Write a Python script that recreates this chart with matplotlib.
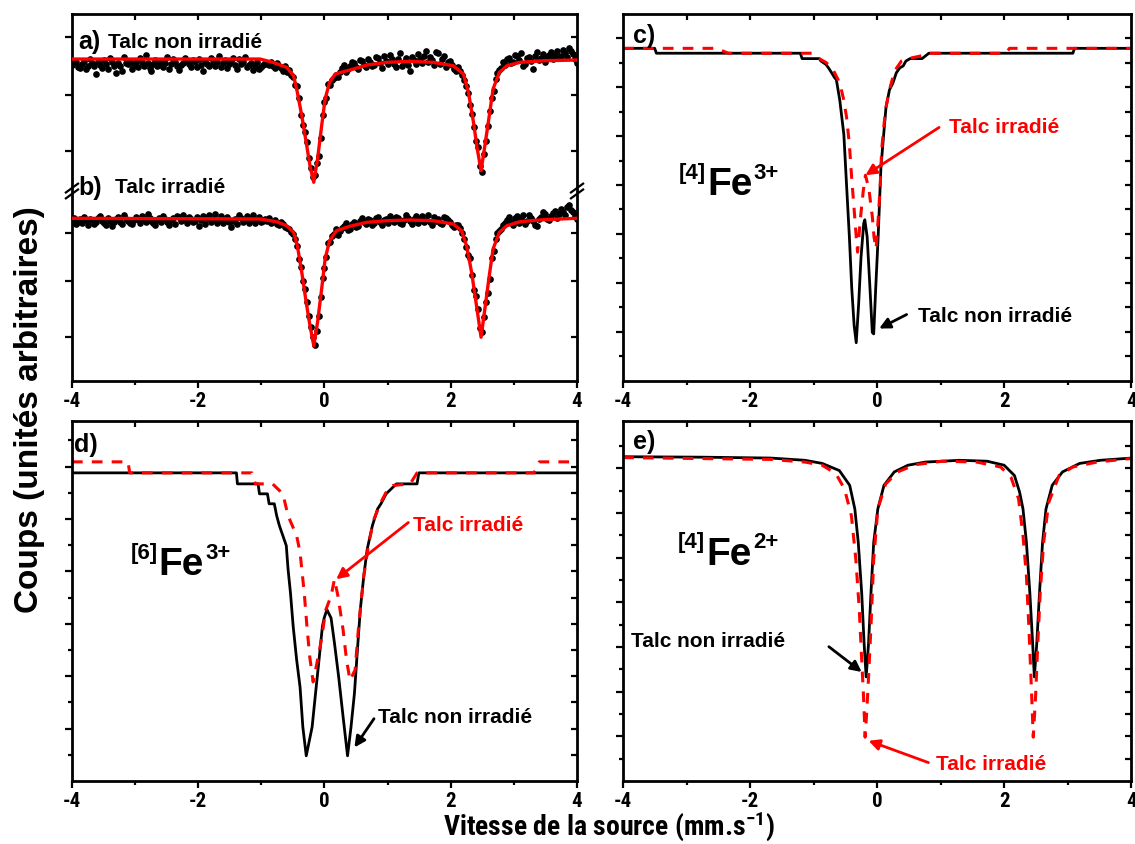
import numpy as np
import matplotlib
matplotlib.use("Agg")
from matplotlib import pyplot as plt
from matplotlib import font_manager

# fonts: Arial-like bold; a narrow face for ticks / x title if one is installed
fonts = font_manager.fontManager.ttflist
names = {f.name for f in fonts}
narrow, stretch, tick_size = 'Liberation Sans', 'normal', 13
for cand in ['Liberation Sans Narrow', 'Arial Narrow', 'Roboto Condensed', 'Open Sans Condensed']:
    if cand in names:
        narrow, tick_size = cand, 15
        break
else:
    if any(f.name == 'DejaVu Sans' and f.stretch == 'condensed' for f in fonts):
        narrow, stretch, tick_size = 'DejaVu Sans', 'condensed', 14

plt.rcParams['font.family'] = ['Liberation Sans', 'DejaVu Sans']
plt.rcParams['font.weight'] = 'bold'
plt.rcParams['mathtext.fontset'] = 'custom'
plt.rcParams['mathtext.bf'] = narrow + ':bold'
plt.rcParams['mathtext.rm'] = narrow + ':bold'
plt.rcParams['mathtext.default'] = 'bf'

# ---------------- panel a / b : spectra (points) + fits ----------------
a_counts = [31.6, 32.0, 31.9, 31.4, 31.3, 31.7, 32.0, 31.2, 31.5, 32.2, 31.8, 31.5, 30.7, 31.9, 31.6, 31.3, 32.1, 31.7, 31.2, 32.3,
            31.9, 31.5, 30.8, 31.8, 31.5, 31.0, 32.4, 31.8, 31.7, 32.0, 31.2, 31.6, 31.9, 31.4, 32.3, 31.9, 31.5, 32.6, 31.8, 31.3,
            31.0, 31.7, 32.1, 31.5, 31.6, 32.0, 31.4, 31.8, 32.4, 31.2, 31.7, 32.2, 31.9, 31.5, 31.1, 31.6, 31.8, 32.3, 32.0, 31.7,
            31.4, 32.1, 31.9, 31.4, 32.2, 31.6, 31.0, 32.0, 31.7, 31.5, 32.3, 31.8, 31.5, 31.9, 32.5, 31.4, 31.8, 32.1, 31.3, 31.7,
            32.0, 32.3, 31.6, 31.2, 32.2, 31.7, 31.9, 32.4, 31.4, 31.6, 31.8, 31.1, 31.5, 31.9, 31.2, 31.4, 31.6, 31.8,
            31.7, 31.6, 31.9, 31.5, 31.3, 31.8, 31.5, 31.3, 31.0, 31.5, 30.9, 31.1, 30.6, 30.4, 29.6, 29.5, 28.3, 26.6,
            25.6, 24.9, 23.9, 22.3, 21.3, 20.4, 20.6, 21.8, 22.5, 24.3, 26.6, 27.9, 28.3, 29.7, 29.6, 30.1, 30.3, 30.6,
            30.4, 30.9, 31.3, 31.6, 30.9, 31.2, 31.5, 31.9, 31.8, 31.4, 31.2, 32.1, 32.0, 31.6, 31.4, 32.2, 31.9, 31.5, 31.6, 32.4,
            32.3, 31.8, 31.3, 32.5, 32.0, 31.7, 32.6, 32.2, 31.7, 31.4, 32.2, 32.8, 31.5, 31.9, 32.3, 31.6, 31.0, 32.4, 32.1, 31.7,
            32.7, 32.2, 31.8, 32.5, 33.0, 31.9, 32.4, 32.1, 31.6, 32.9, 32.8, 31.7, 32.2, 32.5, 31.4, 31.9, 32.0, 31.6, 31.2, 31.0,
            31.4, 31.0, 30.6, 30.1, 29.5, 28.8, 27.6, 26.7, 25.4, 24.0, 23.4, 21.5, 20.9, 22.7, 24.0, 25.5, 27.0, 28.3, 29.0, 30.2,
            30.8, 31.1,
            31.3, 31.9, 31.6, 32.2, 32.3, 31.8, 31.9, 32.6, 32.5, 32.1, 32.8, 31.5, 31.7, 32.3, 32.4, 32.0, 31.2, 32.5, 32.9, 32.1,
            32.3, 32.7, 31.9, 32.4, 32.6, 32.9, 32.2, 32.6, 33.0, 32.3, 32.5, 33.1, 32.8, 32.4, 33.3, 33.0, 32.7, 32.2, 31.8]
b_counts = [16.0, 16.3, 15.7, 15.9, 16.2, 15.8, 16.4, 16.1, 15.6, 16.2, 16.1, 15.7, 15.9, 16.3, 16.5, 16.0, 15.8, 15.6, 16.3, 16.0,
            15.5, 15.9, 16.2, 16.4, 15.9, 15.7, 16.6, 16.2, 16.0, 15.8, 15.7, 16.1, 16.4, 16.2, 15.8, 16.5, 16.2, 15.9, 16.7, 16.3,
            16.0, 15.8, 15.6, 16.1, 16.3, 15.9, 16.5, 16.2, 15.9, 15.6, 16.1, 16.3, 15.7, 16.5, 16.4, 16.0, 16.6, 16.2, 15.8, 16.4,
            16.2, 15.9, 16.0, 16.4, 15.5, 16.1, 16.5, 15.7, 16.3, 16.6, 15.9, 16.2, 16.7, 15.8, 16.1, 16.5, 15.8, 16.0, 16.4, 15.9,
            15.4, 16.0, 16.2, 15.7, 16.6, 16.3, 15.9, 16.1, 16.5, 15.8, 16.2, 16.6, 15.8, 16.1, 16.4, 15.9, 16.0, 16.2,
            16.0, 16.3, 15.8, 15.9, 16.1, 15.7, 15.6, 15.9, 15.7, 15.4, 15.3, 15.2, 14.9, 14.7, 14.2, 13.5, 12.2, 11.4,
            10.0, 9.2, 7.9, 6.5, 5.4, 4.4, 3.6, 5.0, 6.5, 8.4, 10.3, 11.3, 12.4, 13.8, 13.9, 14.5, 14.7, 15.2,
            14.6, 15.0, 15.3, 15.5, 15.8, 15.1, 15.2, 15.7, 15.9, 15.4, 15.5, 16.0, 16.3, 15.9, 15.7, 16.2, 16.1, 15.6, 15.8, 16.3,
            16.4, 15.9, 15.6, 16.1, 16.2, 15.8, 16.5, 16.2, 15.9, 16.4, 16.3, 15.8, 15.7, 16.1, 16.6, 16.3, 16.0, 15.7, 16.2, 16.5,
            15.8, 16.2, 16.5, 15.9, 16.1, 16.6, 15.9, 15.6, 16.4, 16.0, 16.2, 15.8, 15.7, 16.4, 16.3, 16.1, 15.9, 15.6, 15.4, 15.6,
            15.6, 15.3, 14.8, 14.2, 13.4, 12.6, 12.3, 10.6, 9.1, 8.5, 7.2, 5.3, 4.9, 6.4, 7.9, 8.8, 10.2, 12.3, 13.0, 14.2,
            14.8, 15.0,
            15.2, 15.6, 15.8, 16.1, 16.4, 15.9, 15.6, 16.3, 16.5, 15.8, 16.2, 16.6, 15.7, 16.0, 16.6, 16.3, 16.0, 15.6, 15.5, 16.2,
            16.4, 16.9, 16.7, 16.2, 16.1, 16.5, 16.8, 17.0, 16.3, 16.7, 17.2, 16.9, 16.6, 17.4, 17.6, 17.1, 16.9, 16.5, 16.2]
n_chan = 255
assert len(a_counts) == n_chan and len(b_counts) == n_chan
chan_v = np.linspace(-4, 4, n_chan)

a_fit_v = [-4.0, -1.02, -0.82, -0.6, -0.49, -0.43, -0.36, -0.29, -0.23, -0.17, -0.11, -0.045,
           0.01, 0.08, 0.17, 0.3, 0.46, 0.67, 0.99, 1.35, 1.72, 2.04, 2.2, 2.28, 2.36, 2.42,
           2.48, 2.54, 2.61, 2.67, 2.77, 2.89, 3.1, 3.47, 4.0]
a_fit_y = [32.2, 32.2, 31.87, 31.37, 30.53, 28.87, 26.53, 23.87, 21.53, 19.87, 22.2, 25.53,
           28.2, 29.87, 30.7, 30.93, 31.2, 31.6, 31.87, 31.97, 31.87, 31.53, 30.7, 28.87, 25.87, 23.2,
           21.03, 23.53, 26.53, 29.2, 30.87, 31.53, 31.87, 32.03, 32.1]
b_fit_v = [-4.0, -1.02, -0.757, -0.6, -0.49, -0.43, -0.36, -0.29, -0.23, -0.17, -0.11, -0.045,
           0.01, 0.08, 0.19, 0.40, 0.67, 0.99, 1.35, 1.72, 2.04, 2.17, 2.25, 2.33, 2.40,
           2.48, 2.54, 2.61, 2.67, 2.77, 2.89, 3.1, 3.47, 4.0]
b_fit_y = [16.27, 16.2, 15.93, 15.53, 14.87, 13.53, 10.87, 7.87, 5.53, 3.53, 5.87, 9.2,
           12.2, 14.03, 15.03, 15.47, 15.87, 16.03, 16.1, 16.03, 15.7, 15.03, 13.53, 10.87, 7.87,
           4.37, 7.2, 10.53, 13.2, 14.87, 15.53, 15.93, 16.13, 16.27]
ab_yticks = [4.4, 10.0, 14.8, 23.0, 28.6, 34.4]

# ---------------- panel c : [4]Fe3+ ----------------
c_non_v = [-4.0, -3.503, -3.476, -1.209, -1.182, -0.912, -0.885, -0.804, -0.750, -0.669, -0.642,
           -0.588, -0.524, -0.481, -0.437, -0.400, -0.362, -0.329, -0.292, -0.254, -0.211, -0.194,
           -0.157, -0.113, -0.076, -0.054, -0.022, 0.016, 0.059, 0.103, 0.140, 0.194, 0.248, 0.302,
           0.356, 0.410, 0.453, 0.518, 0.707, 0.815, 3.082, 3.109, 4.0]
c_non_y = [6.79, 6.79, 6.69, 6.69, 6.58, 6.58, 6.53, 6.46, 6.36, 6.19, 6.15,
           5.73, 5.03, 3.99, 2.94, 1.90, 1.13, 0.78, 1.55, 2.52, 3.22, 3.29,
           2.94, 1.90, 0.99, 0.96, 1.90, 2.94, 4.34, 5.03, 5.59, 5.94, 6.08, 6.29,
           6.39, 6.43, 6.53, 6.58, 6.58, 6.69, 6.69, 6.79, 6.79]
c_irr_v = [-4.0, -2.532, -2.343, -1.020, -0.912, -0.804, -0.696, -0.588, -0.524, -0.481, -0.437,
           -0.400, -0.362, -0.329, -0.308, -0.265, -0.221, -0.184, -0.130, -0.076, -0.049, -0.016,
           0.016, 0.049, 0.070, 0.103, 0.140, 0.194, 0.275, 0.383, 0.491, 0.707, 0.815, 2.030,
           2.084, 4.0]
c_irr_y = [6.79, 6.79, 6.69, 6.69, 6.58, 6.50, 6.36, 6.08, 5.73, 5.38, 4.83,
           4.13, 3.50, 2.94, 2.63, 3.29, 3.85, 4.20, 3.92, 3.36, 2.94, 2.70,
           3.29, 3.99, 4.69, 5.17, 5.59, 5.94, 6.33, 6.53, 6.58, 6.64, 6.69, 6.69,
           6.79, 6.79]

# ---------------- panel d : [6]Fe3+ ----------------
d_non_v = [-4.0, -1.395, -1.379, -1.052, -1.030, -0.904, -0.877, -0.795, -0.757, -0.714, -0.659,
           -0.605, -0.577, -0.539, -0.496, -0.441, -0.387, -0.343, -0.289, -0.196, -0.142, -0.087,
           -0.033, -0.005, 0.038, 0.104, 0.158, 0.224, 0.295, 0.365, 0.420, 0.474, 0.529, 0.567,
           0.622, 0.676, 0.758, 0.840, 0.894, 0.976, 1.139, 1.466, 1.494, 4.0]
d_non_y = [5.88, 5.88, 5.67, 5.67, 5.48, 5.48, 5.29, 5.29, 5.06, 4.87, 4.68,
           4.49, 4.04, 3.59, 2.95, 2.31, 1.79, 1.03, 0.48, 1.03, 1.67, 2.31,
           2.95, 3.11, 3.27, 3.11, 2.63, 1.99, 1.22, 0.48, 1.03, 1.67, 2.63, 3.27,
           3.91, 4.42, 4.87, 5.19, 5.29, 5.48, 5.67, 5.67, 5.88, 5.88]
d_irr_v = [-4.0, -3.112, -3.085, -1.150, -1.095, -0.823, -0.659, -0.577, -0.441, -0.387, -0.321,
           -0.278, -0.234, -0.180, -0.141, -0.059, 0.022, 0.104, 0.158, 0.213, 0.295, 0.349,
           0.404, 0.485, 0.540, 0.622, 0.703, 0.785, 0.894, 0.976, 1.085, 1.357, 1.466, 3.319,
           3.401, 4.0]
d_irr_y = [6.09, 6.09, 5.88, 5.88, 5.67, 5.67, 5.48, 5.06, 4.68, 4.36, 3.59,
           2.95, 2.37, 1.89, 2.12, 2.63, 3.27, 3.53, 3.85, 3.53, 2.88, 2.31,
           1.92, 2.12, 2.95, 3.91, 4.55, 5.00, 5.32, 5.51, 5.64, 5.67, 5.88, 5.88,
           6.09, 6.09]

# ---------------- panel e : [4]Fe2+ ----------------
e_non_v = [-4.0, -2.757, -1.676, -1.135, -0.865, -0.595, -0.432, -0.351, -0.297, -0.243, -0.205,
           -0.173, -0.135, -0.097, -0.054, 0.011, 0.108, 0.270, 0.486, 0.757, 1.297, 1.730,
           2.0, 2.162, 2.243, 2.297, 2.351, 2.405, 2.449, 2.476, 2.514, 2.557, 2.605, 2.659,
           2.757, 2.919, 3.189, 3.514, 4.0]
e_non_y = [7.26, 7.25, 7.23, 7.18, 7.11, 6.95, 6.62, 6.09, 5.34, 4.21, 3.08,
           2.33, 3.08, 4.21, 5.34, 6.09, 6.62, 6.92, 7.07, 7.14, 7.18, 7.16,
           7.07, 6.84, 6.47, 6.09, 5.34, 4.21, 3.08, 2.33, 3.08, 4.21, 5.34, 6.09,
           6.62, 6.92, 7.11, 7.18, 7.23]
e_irr_v = [-4.0, -1.676, -1.135, -0.865, -0.649, -0.514, -0.405, -0.335, -0.281, -0.243, -0.216,
           -0.189, -0.162, -0.135, -0.097, -0.054, 0.011, 0.135, 0.324, 0.595, 1.027, 1.568,
           1.946, 2.108, 2.227, 2.297, 2.351, 2.389, 2.422, 2.459, 2.497, 2.530, 2.568, 2.622,
           2.703, 2.865, 3.081, 3.459, 4.0]
e_irr_y = [7.24, 7.20, 7.14, 7.07, 6.88, 6.54, 5.94, 4.96, 3.83, 2.71, 1.95,
           0.98, 1.58, 2.33, 3.46, 4.96, 6.09, 6.65, 6.92, 7.08, 7.16, 7.14,
           7.03, 6.80, 6.32, 5.49, 4.59, 3.46, 2.33, 0.98, 1.95, 3.08, 4.21, 5.34,
           6.24, 6.84, 7.03, 7.14, 7.22]

RED = '#ff0000'
TXT = 15


def style(ax, ylim, ymaj, ymin=()):
    ax.set_xlim(-4, 4)
    ax.set_ylim(*ylim)
    ax.set_xticks([-4, -2, 0, 2, 4])
    ax.set_xticks([-3, -1, 1, 3], minor=True)
    ax.set_xticklabels(['-4', '-2', '0', '2', '4'], fontfamily=narrow, fontstretch=stretch,
                       fontweight='bold', fontsize=tick_size)
    ax.set_yticks(ymaj)
    ax.set_yticks(list(ymin), minor=True)
    ax.set_yticklabels([])
    ax.tick_params(which='major', direction='out', length=5, width=1.6, pad=2)
    ax.tick_params(which='minor', direction='out', length=3, width=1.6)
    for s in ax.spines.values():
        s.set_linewidth(2)
    top = ax.secondary_xaxis('top')
    top.set_xticks(list(range(-3, 4)))
    top.tick_params(direction='in', length=4, width=1.6, labeltop=False)
    top.spines['top'].set_visible(False)
    right = ax.secondary_yaxis('right')
    right.set_yticks(sorted(list(ymaj) + list(ymin)))
    right.tick_params(direction='in', length=4, width=1.6, labelright=False)
    right.spines['right'].set_visible(False)


def fe_label(ax, fx, fy, site, charge):
    t = ax.text(fx, fy, 'Fe', transform=ax.transAxes, fontsize=28, fontweight='bold',
                ha='left', va='baseline')
    ax.annotate(site, xy=(0, 1), xycoords=t, ha='right', va='top', fontsize=16,
                fontweight='bold', xytext=(-1, 3), textcoords='offset points')
    ax.annotate(charge, xy=(1, 1), xycoords=t, ha='left', va='top', fontsize=16,
                fontweight='bold', xytext=(1, 3), textcoords='offset points')


def arrow(ax, tip, tail, color):
    ax.annotate('', xy=tip, xycoords='data', xytext=tail, textcoords='axes fraction',
                arrowprops=dict(arrowstyle='-|>', color=color, lw=2, mutation_scale=16,
                                shrinkA=0, shrinkB=0))


fig = plt.figure(figsize=(11.35, 8.45), dpi=100)
ax_ab = fig.add_axes([0.0634, 0.548, 0.445, 0.4342])
ax_c = fig.add_axes([0.549, 0.548, 0.4476, 0.4342])
ax_d = fig.add_axes([0.0634, 0.0746, 0.445, 0.426])
ax_e = fig.add_axes([0.549, 0.0746, 0.4476, 0.426])

# a / b
ax_ab.plot(chan_v, a_counts, 'o', color='black', ms=3.8, zorder=2)
ax_ab.plot(chan_v, b_counts, 'o', color='black', ms=3.8, zorder=2)
ax_ab.plot(a_fit_v, a_fit_y, color=RED, lw=2.4, zorder=3)
ax_ab.plot(b_fit_v, b_fit_y, color=RED, lw=2.4, zorder=3)
style(ax_ab, (0, 36.7), ab_yticks)
ax_ab.text(0.012, 0.926, 'a)', transform=ax_ab.transAxes, fontsize=18, fontweight='bold', va='center')
ax_ab.text(0.071, 0.926, 'Talc non irradié', transform=ax_ab.transAxes, fontsize=TXT, fontweight='bold', va='center')
ax_ab.text(0.012, 0.529, 'b)', transform=ax_ab.transAxes, fontsize=18, fontweight='bold', va='center')
ax_ab.text(0.085, 0.529, 'Talc irradié', transform=ax_ab.transAxes, fontsize=TXT, fontweight='bold', va='center')
# axis break marks
yb = 19.0 / 36.7
for xb in (0.0, 1.0):
    for dy in (-0.008, 0.008):
        ax_ab.plot([xb - 0.012, xb + 0.012], [yb + dy - 0.012, yb + dy + 0.012],
                   transform=ax_ab.transAxes, color='black', lw=1.6, clip_on=False, zorder=5)

# c
ax_c.plot(c_non_v, c_non_y, color='black', lw=2)
ax_c.plot(c_irr_v, c_irr_y, color=RED, lw=2.2, ls=(0, (3.5, 3)))
style(ax_c, (0, 7.49), range(1, 8), np.arange(0.5, 7.5, 1.0))
ax_c.text(0.02, 0.942, 'c)', transform=ax_c.transAxes, fontsize=18, fontweight='bold', va='center')
fe_label(ax_c, 0.165, 0.509, '[4]', '3+')
ax_c.text(0.641, 0.693, 'Talc irradié', transform=ax_c.transAxes, color=RED, fontsize=TXT, fontweight='bold', va='center')
arrow(ax_c, (-0.184, 4.2), (0.622, 0.691), RED)
ax_c.text(0.580, 0.179, 'Talc non irradié', transform=ax_c.transAxes, fontsize=TXT, fontweight='bold', va='center')
arrow(ax_c, (0.032, 1.07), (0.558, 0.181), 'black')

# d
ax_d.plot(d_non_v, d_non_y, color='black', lw=2)
ax_d.plot(d_irr_v, d_irr_y, color=RED, lw=2.2, ls=(0, (3.5, 3)))
style(ax_d, (0, 6.87), range(1, 7), np.arange(0.5, 7.0, 1.0))
ax_d.text(0.005, 0.935, 'd)', transform=ax_d.transAxes, fontsize=18, fontweight='bold', va='center')
fe_label(ax_d, 0.172, 0.574, '[6]', '3+')
ax_d.text(0.676, 0.712, 'Talc irradié', transform=ax_d.transAxes, color=RED, fontsize=TXT, fontweight='bold', va='center')
arrow(ax_d, (0.186, 3.85), (0.666, 0.718), RED)
ax_d.text(0.605, 0.18, 'Talc non irradié', transform=ax_d.transAxes, fontsize=TXT, fontweight='bold', va='center')
arrow(ax_d, (0.474, 0.64), (0.598, 0.173), 'black')

# e
ax_e.plot(e_non_v, e_non_y, color='black', lw=2)
ax_e.plot(e_irr_v, e_irr_y, color=RED, lw=2.2, ls=(0, (3.5, 3)))
style(ax_e, (0, 8.06), range(1, 8), np.arange(0.5, 8.0, 1.0))
ax_e.text(0.02, 0.945, 'e)', transform=ax_e.transAxes, fontsize=18, fontweight='bold', va='center')
fe_label(ax_e, 0.1635, 0.604, '[4]', '2+')
ax_e.text(0.015, 0.39, 'Talc non irradié', transform=ax_e.transAxes, fontsize=TXT, fontweight='bold', va='center')
arrow(ax_e, (-0.243, 2.44), (0.405, 0.373), 'black')
ax_e.text(0.615, 0.049, 'Talc irradié', transform=ax_e.transAxes, color=RED, fontsize=TXT, fontweight='bold', va='center')
arrow(ax_e, (-0.135, 0.90), (0.601, 0.051), RED)

fig.text(0.537, 0.002, r'Vitesse de la source (mm.s$^{-1}$)', ha='center', va='bottom',
         fontsize=20, fontweight='bold', fontfamily=narrow, fontstretch=stretch)
fig.text(0.026, 0.515, 'Coups (unités arbitraires)', ha='center', va='center',
         rotation=90, fontsize=24, fontweight='bold')

fig.savefig('out.png', dpi=100)
